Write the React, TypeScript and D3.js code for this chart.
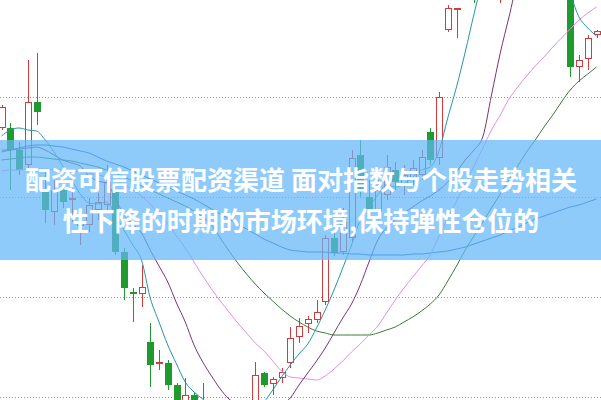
import React from 'react';
import * as d3 from 'd3';

// daily candles, price units
const openP = [15.69, 15.69, 15.47, 15.32, 15.95, 15.07, 14.85, 15.07, 14.97, 14.71,
  14.72, 14.87, 14.92, 15.07, 14.45, 14.05, 14.03, 13.55, 13.33, 13.34,
  13.12, 12.85, 13.02, 12.92, 12.72, 12.52, 12.67, 12.57, 12.77, 12.85,
  13.24, 13.13, 13.19, 13.34, 13.60, 13.73, 13.77, 13.95, 14.59, 14.45,
  14.59, 15.42, 15.00, 14.85, 15.02, 15.27, 15.12, 15.19, 15.22, 15.65,
  15.39, 16.67, 16.87, 17.07, 17.27, 17.12, 17.47, 17.32, 17.67, 18.07,
  17.87, 17.97, 17.27, 17.19, 16.99, 17.10, 16.30, 16.38, 16.62];
const highP = [15.92, 15.74, 15.55, 16.37, 16.44, 15.25, 15.17, 15.12, 15.09, 14.84,
  14.99, 15.04, 15.32, 15.12, 14.49, 14.09, 14.32, 13.74, 13.47, 13.37,
  13.14, 13.19, 13.05, 13.14, 12.82, 12.77, 12.77, 12.87, 12.92, 13.35,
  13.25, 13.20, 13.29, 13.70, 13.79, 13.81, 13.97, 14.62, 14.65, 14.89,
  15.47, 15.57, 15.17, 15.17, 15.42, 15.35, 15.32, 15.37, 15.47, 15.69,
  16.05, 16.92, 16.89, 17.47, 17.37, 17.57, 17.87, 17.77, 18.17, 18.22,
  18.12, 18.02, 17.37, 17.25, 17.22, 17.27, 16.42, 16.62, 16.67];
const lowP = [15.67, 15.07, 15.22, 15.29, 15.72, 14.74, 14.72, 14.89, 14.75, 14.52,
  14.65, 14.77, 14.87, 14.42, 13.97, 13.75, 13.90, 13.10, 13.27, 13.07,
  12.82, 12.79, 12.77, 12.67, 12.47, 12.42, 12.42, 12.49, 12.72, 12.82,
  13.10, 13.02, 13.14, 13.29, 13.54, 13.64, 13.74, 13.92, 14.41, 14.42,
  14.55, 15.00, 14.82, 14.77, 14.97, 15.07, 15.02, 15.12, 15.17, 15.32,
  15.32, 16.65, 16.59, 17.02, 16.94, 17.05, 17.37, 16.94, 17.57, 17.77,
  17.82, 17.22, 17.12, 16.98, 16.98, 16.20, 16.15, 16.27, 16.59];
const closeP = [15.90, 15.47, 15.27, 15.95, 15.85, 14.87, 15.07, 14.95, 14.99, 14.75,
  14.92, 14.95, 15.15, 14.45, 14.09, 14.03, 14.10, 13.32, 13.35, 13.12,
  12.87, 13.02, 12.85, 12.72, 12.57, 12.67, 12.52, 12.77, 12.85, 13.22,
  13.12, 13.18, 13.25, 13.59, 13.71, 13.78, 13.85, 14.59, 14.44, 14.75,
  15.39, 15.05, 14.87, 15.07, 15.30, 15.15, 15.22, 15.29, 15.40, 15.37,
  16.00, 16.89, 16.89, 17.37, 17.07, 17.47, 17.77, 17.67, 18.07, 17.87,
  17.97, 17.27, 17.19, 16.99, 17.10, 16.30, 16.37, 16.59, 16.66];

// moving averages
const ma5 = [15.61, 15.67, 15.69, 15.67, 15.66, 15.57, 15.45, 15.31, 15.17, 15.03,
  14.94, 14.93, 14.95, 14.82, 14.67, 14.52, 14.37, 13.99, 13.75, 13.52,
  13.33, 13.15, 13.05, 12.98, 12.91, 12.82, 12.79, 12.79, 12.83, 12.87,
  12.95, 13.07, 13.20, 13.32, 13.43, 13.53, 13.69, 13.87, 14.07, 14.29,
  14.52, 14.77, 14.90, 15.02, 15.12, 15.10, 15.13, 15.20, 15.27, 15.30,
  15.46, 15.79, 16.10, 16.45, 16.83, 17.17, 17.42, 17.57, 17.72, 17.82,
  17.77, 17.57, 17.42, 17.27, 17.17, 17.02, 16.80, 16.69, 16.61];
const ma10 = [15.47, 15.47, 15.48, 15.49, 15.50, 15.47, 15.42, 15.37, 15.34, 15.31,
  15.21, 15.16, 15.14, 14.99, 14.82, 14.73, 14.64, 14.47, 14.31, 14.15,
  13.94, 13.75, 13.52, 13.35, 13.21, 13.08, 12.98, 12.92, 12.87, 12.85,
  12.85, 12.87, 12.92, 12.99, 13.12, 13.24, 13.36, 13.49, 13.64, 13.79,
  13.93, 14.12, 14.35, 14.57, 14.69, 14.77, 14.84, 14.90, 14.96, 15.01,
  15.07, 15.15, 15.25, 15.37, 15.47, 15.60, 16.02, 16.44, 16.80, 17.17,
  17.42, 17.52, 17.55, 17.57, 17.55, 17.47, 17.39, 17.32, 17.25];
const ma20 = [15.26, 15.27, 15.27, 15.28, 15.28, 15.28, 15.27, 15.27, 15.26, 15.25,
  15.24, 15.22, 15.20, 15.17, 15.12, 15.07, 15.01, 14.93, 14.83, 14.73,
  14.61, 14.49, 14.35, 14.21, 14.08, 13.96, 13.85, 13.74, 13.64, 13.54,
  13.46, 13.36, 13.26, 13.20, 13.19, 13.18, 13.17, 13.21, 13.28, 13.36,
  13.45, 13.53, 13.62, 13.71, 13.84, 13.97, 14.09, 14.20, 14.31, 14.42,
  14.61, 14.79, 14.96, 15.13, 15.31, 15.49, 15.67, 15.82, 15.98, 16.10,
  16.21, 16.31, 16.40, 16.50, 16.59, 16.68, 16.77, 16.84, 16.90];
const ma30 = [15.37, 15.38, 15.39, 15.40, 15.40, 15.39, 15.38, 15.37, 15.36, 15.34,
  15.32, 15.30, 15.27, 15.24, 15.20, 15.16, 15.11, 15.07, 15.03, 14.99,
  14.95, 14.91, 14.86, 14.80, 14.72, 14.59, 14.46, 14.34, 14.23, 14.13,
  14.04, 13.96, 13.88, 13.81, 13.75, 13.70, 13.66, 13.64, 13.62, 13.62,
  13.62, 13.62, 13.62, 13.64, 13.67, 13.70, 13.75, 13.80, 13.86, 13.93,
  14.02, 14.16, 14.31, 14.47, 14.61, 14.75, 14.89, 15.03, 15.17, 15.31,
  15.45, 15.57, 15.70, 15.82, 15.95, 16.07, 16.16, 16.23, 16.30];
const ma60 = [15.45, 15.47, 15.49, 15.51, 15.52, 15.52, 15.51, 15.50, 15.48, 15.46,
  15.44, 15.40, 15.36, 15.33, 15.30, 15.26, 15.22, 15.18, 15.14, 15.10,
  15.06, 15.02, 14.98, 14.93, 14.88, 14.83, 14.78, 14.73, 14.68, 14.63,
  14.58, 14.54, 14.50, 14.47, 14.46, 14.45, 14.45, 14.45, 14.44, 14.44,
  14.43, 14.43, 14.42, 14.42, 14.42, 14.42, 14.42, 14.43, 14.43, 14.44,
  14.45, 14.46, 14.48, 14.50, 14.53, 14.56, 14.59, 14.62, 14.66, 14.70,
  14.74, 14.78, 14.81, 14.84, 14.87, 14.90, 14.92, 14.95, 14.98];

const gridPrices = [16, 15, 14, 13];
const titleLines = ['配资可信股票配资渠道 面对指数与个股走势相关', '性下降的时期的市场环境,保持弹性仓位的'];

const W = 601;
const H = 400;
const UP = '#d23c3c';
const DOWN = '#1f9a2d';

const maSeries = [
  { name: 'MA60', values: ma60, color: '#2262b0' },
  { name: 'MA30', values: ma30, color: '#3a7a3a' },
  { name: 'MA20', values: ma20, color: '#e38ee3' },
  { name: 'MA10', values: ma10, color: '#7a3378' },
  { name: 'MA5', values: ma5, color: '#2596a8' },
];

export default function App() {
  const x = d3.scaleLinear().domain([0, closeP.length - 1]).range([1.5, 596.5]);
  const y = d3.scaleLinear().domain([12.97, 16.97]).range([H, 0]);

  const line = (vals: number[]) =>
    d3.line<number>()
      .x((_, i) => x(i))
      .y(d => y(d))
      .curve(d3.curveMonotoneX)(vals) || '';

  return (
    <svg width={W} height={H} style={{ position: 'absolute', left: 0, top: 0, background: '#fff' }}>
      <rect width={W} height={H} fill="#fff" />
      {gridPrices.map(p => (
        <line key={p} x1={0} x2={W} y1={Math.round(y(p)) + 0.5} y2={Math.round(y(p)) + 0.5}
          stroke="#9a9a9a" strokeWidth={1} strokeDasharray="1,2" />
      ))}
      {closeP.map((c, i) => {
        const o = openP[i];
        const up = c >= o;
        const col = up ? UP : DOWN;
        const n = Math.round(x(i));
        const top = Math.round(y(Math.max(o, c)));
        const bot = Math.round(y(Math.min(o, c)));
        return (
          <g key={i}>
            <line x1={n + 0.5} x2={n + 0.5} y1={y(highP[i])} y2={y(lowP[i])} stroke={col} strokeWidth={1} />
            {up ? (
              <rect x={n - 2.5} y={top + 0.5} width={6} height={Math.max(bot - top - 1, 1)}
                fill="#fff" stroke={col} strokeWidth={1} />
            ) : (
              <rect x={n - 3} y={top} width={7} height={Math.max(bot - top, 1)} fill={col} />
            )}
          </g>
        );
      })}
      {maSeries.map(s => (
        <path key={s.name} d={line(s.values)} fill="none" stroke={s.color} strokeWidth={1} />
      ))}
      <rect x={0} y={140} width={W} height={120} fill="rgb(100,183,248)" opacity={0.72} />
      {titleLines.map((t, i) => (
        <text key={i} x={301} y={190 + i * 41} textAnchor="middle" fill="#fff"
          fontFamily='"Noto Sans CJK SC", "Noto Sans", sans-serif' fontWeight={700} fontSize={26}>
          {t}
        </text>
      ))}
    </svg>
  );
}
